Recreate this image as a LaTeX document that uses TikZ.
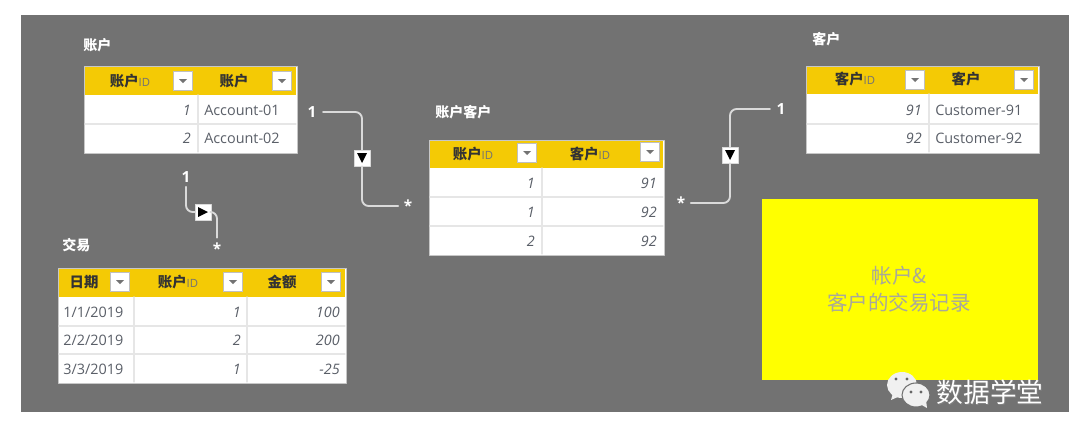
\documentclass[tikz,border=0pt]{standalone}
\usepackage{fontspec}
\setmainfont{Open Sans}
\newfontfamily\cjk{Noto Sans CJK SC}
\usepackage{xcolor}
\usetikzlibrary{arrows,arrows.meta}
\definecolor{panelgray}{HTML}{727272}
\definecolor{headgold}{HTML}{F4CA05}
\definecolor{notefill}{HTML}{FFFF00}
\definecolor{gridgray}{HTML}{E6E6E6}
\definecolor{cellink}{HTML}{5A5F68}
\definecolor{relwhite}{HTML}{DADADA}
\definecolor{notegray}{HTML}{A8A89A}
\newcommand{\headtext}[1]{{\cjk\bfseries\color{black!80}#1}}
\newcommand{\headid}[1]{\headtext{#1}{\fontsize{8.5pt}{9pt}\selectfont\color{black!55}ID}}
\tikzset{
  tablebody/.style={fill=white,draw=black!22,line width=.7pt},
  headbar/.style={fill=headgold},
  gridline/.style={draw=gridgray,line width=.9pt},
  headcell/.style={inner sep=0pt,font=\fontsize{10.8pt}{12pt}\selectfont},
  numcell/.style={anchor=east,inner sep=0pt,text=cellink,font=\fontsize{10.8pt}{12pt}\selectfont\itshape},
  txtcell/.style={anchor=west,inner sep=0pt,text=cellink,font=\fontsize{10.8pt}{12pt}\selectfont},
  tabletitle/.style={anchor=west,inner sep=0pt,text=white,font=\fontsize{10.5pt}{12pt}\selectfont\cjk\bfseries},
  filterbtn/.style={fill=white,draw=black!25,line width=.7pt,minimum size=14.5pt,inner sep=0pt},
  relline/.style={draw=relwhite,line width=1.4pt,rounded corners=5pt},
  relmark/.style={fill=white,draw=relwhite,line width=.5pt,minimum size=12pt,inner sep=0pt},
  relend/.style={inner sep=1pt,text=white,font=\fontsize{11.5pt}{12pt}\selectfont\bfseries},
}
\begin{document}
\begin{tikzpicture}[line cap=round,line join=round,x=.75pt,y=-.75pt]
\useasboundingbox (0,0) rectangle (1080,440);
\fill[white] (0,0) rectangle (1080,440);
\fill[panelgray] (21,15) rectangle (1069,412);

% titles
\node[tabletitle] (titleacc) at (83,45) {账户};
\node[tabletitle] (titlelink) at (435,112) {账户客户};
\node[tabletitle] (titlecust) at (812,39) {客户};
\node[tabletitle] (titletrans) at (62,245) {交易};

% accounts table
\draw[tablebody] (84,66) rectangle (297,153);
\fill[headbar] (85,67) rectangle (296,95);
\draw[gridline] (85,124) -- (296,124);
\draw[gridline] (198,95) -- (198,152);
\node[headcell] (headacc1) at (130,81) {\headid{账户}};
\node[headcell] (headacc2) at (234,81) {\headtext{账户}};
\node[numcell] (acc11) at (191,110) {1};
\node[txtcell] (acc12) at (204,110) {Account-01};
\node[numcell] (acc21) at (191,138) {2};
\node[txtcell] (acc22) at (204,138) {Account-02};

% link table
\draw[tablebody] (429,140) rectangle (664,255);
\fill[headbar] (430,141) rectangle (663,168);
\foreach \y in {197,226} \draw[gridline] (430,\y) -- (663,\y);
\draw[gridline] (542,168) -- (542,254);
\node[headcell] (headlink1) at (473,154) {\headid{账户}};
\node[headcell] (headlink2) at (590,154) {\headid{客户}};
\node[numcell] (link11) at (535,183) {1};
\node[numcell] (link12) at (657,183) {91};
\node[numcell] (link21) at (535,212) {1};
\node[numcell] (link22) at (657,212) {92};
\node[numcell] (link31) at (535,241) {2};
\node[numcell] (link32) at (657,241) {92};

% customers table
\draw[tablebody] (806,66) rectangle (1039,153);
\fill[headbar] (807,67) rectangle (1038,94);
\draw[gridline] (807,124) -- (1038,124);
\draw[gridline] (929,94) -- (929,152);
\node[headcell] (headcust1) at (855,79) {\headid{客户}};
\node[headcell] (headcust2) at (966,79) {\headtext{客户}};
\node[numcell] (cust11) at (922,110) {91};
\node[txtcell] (cust12) at (935,110) {Customer-91};
\node[numcell] (cust21) at (922,138) {92};
\node[txtcell] (cust22) at (935,138) {Customer-92};

% transactions table
\draw[tablebody] (58,268) rectangle (346,383);
\fill[headbar] (59,269) rectangle (345,297);
\foreach \y in {326,354} \draw[gridline] (59,\y) -- (345,\y);
\foreach \x in {134,247} \draw[gridline] (\x,297) -- (\x,382);
\node[headcell] (headtr1) at (84,282) {\headtext{日期}};
\node[headcell] (headtr2) at (178,282) {\headid{账户}};
\node[headcell] (headtr3) at (282,282) {\headtext{金额}};
\node[txtcell] (tr11) at (63,312) {1/1/2019};
\node[numcell] (tr12) at (241,312) {1};
\node[numcell] (tr13) at (340,312) {100};
\node[txtcell] (tr21) at (63,340) {2/2/2019};
\node[numcell] (tr22) at (241,340) {2};
\node[numcell] (tr23) at (340,340) {200};
\node[txtcell] (tr31) at (63,369) {3/3/2019};
\node[numcell] (tr32) at (241,369) {1};
\node[numcell] (tr33) at (340,369) {-25};

% filter buttons
\foreach \x/\y in {183/81,282/81,527/153,650/152,915/80,1024/80,120/282,233/282,331/282}{
  \node[filterbtn] (btn\x) at (\x,\y) {};
  \fill[black!55] (\x-4,\y-2) -- (\x+4,\y-2) -- (\x,\y+2) -- cycle;
}

% relationships
\node[relend] (oneacc) at (312,112) {1};
\node[relend] (starlink) at (408,206) {*};
\node[relmark] (mkacc) at (362,158) {};
\draw[relline] (oneacc.east) ++(5,0) -| (mkacc.north);
\draw[relline] (mkacc.south) |- ([xshift=-3]starlink.west);
\fill (mkacc.center) ++(-5,-5) -- ++(10,0) -- ++(-5,10) -- cycle;

\node[relend] (onecust) at (781,109) {1};
\node[relend] (starcust) at (681,203) {*};
\node[relmark] (mkcust) at (730,155) {};
\draw[relline] (onecust.west) ++(-5,0) -| (mkcust.north);
\draw[relline] (mkcust.south) |- ([xshift=3]starcust.east);
\fill (mkcust.center) ++(-5,-5) -- ++(10,0) -- ++(-5,10) -- cycle;

\node[relend] (onetr) at (186,177) {1};
\node[relend] (startr) at (217,249) {*};
\node[relmark] (mktr) at (203,212) {};
\draw[relline] ([yshift=-2]onetr.south) |- (mktr.west);
\draw[relline] (mktr.east) -| ([yshift=3]startr.north);
\fill (mktr.center) ++(-5,-5) -- ++(10,5) -- ++(-10,5) -- cycle;

% note
\fill[notefill] (762,199) rectangle (1038,380);
\node[align=center,inner sep=0pt,text=notegray,font=\fontsize{15.4pt}{20pt}\selectfont\cjk] (note) at (899,289) {帐户\&\\客户的交易记录};

% watermark
\fill[black!6] (902,385) ellipse (15 and 13);
\fill[black!6] (893,393) -- (891,400) -- (900,396) -- cycle;
\draw[panelgray,line width=.8pt,fill=black!6] (916,395) ellipse (14 and 12);
\fill[black!6] (920,404) -- (927,408) -- (926,400) -- cycle;
\fill[black!60] (896,379) circle (1.6) (907,379) circle (1.6) (911,392) circle (1.6) (921,392) circle (1.6);
\node[inner sep=0pt,text=black!50,font=\fontsize{20pt}{22pt}\selectfont\cjk] (wmshadow) at (991,393) {数据学堂};
\node[inner sep=0pt,text=white,font=\fontsize{20pt}{22pt}\selectfont\cjk] (wm) at (990,392) {数据学堂};
\end{tikzpicture}
\end{document}
